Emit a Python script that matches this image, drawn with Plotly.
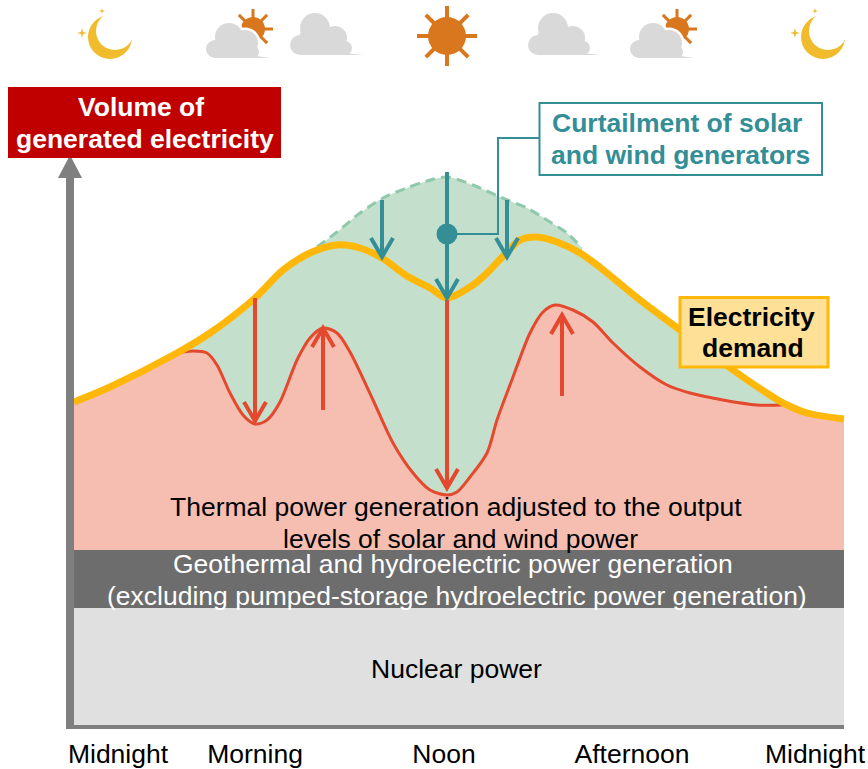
import math
import plotly.graph_objects as go

FONT = "Liberation Sans"

# Values: x = position through the day, y = generated volume
tick_pos = [44, 181, 370, 558, 741]
tick_labels = ["Midnight", "Morning", "Noon", "Afternoon", "Midnight"]

demand_x = [0, 36, 103, 136, 181, 209, 236, 263, 286, 308, 333, 356, 373, 399, 413, 433, 446, 463,
            483, 506, 523, 566, 606, 659, 699, 713, 733, 770]
demand_y = [325, 340, 374, 394, 429, 457, 474, 482, 479, 469, 451, 439, 429, 442, 454, 475, 487, 490,
            485, 474, 462, 427, 397, 357, 330, 322, 314, 308]

thermal_x = [103, 119, 133, 143, 156, 169, 181, 193, 206, 223, 236, 249, 263, 276, 299, 319, 339, 356,
             373, 383, 396, 413, 423, 439, 456, 469, 481, 499, 519, 539, 566, 593, 616, 649, 683, 708]
thermal_y = [374, 376, 374, 362, 334, 312, 303, 307, 325, 367, 389, 399, 394, 375, 327, 284, 254, 237,
             232, 235, 250, 274, 307, 350, 394, 415, 422, 417, 405, 384, 360, 342, 334, 327, 322, 322]

potential_x = [243, 263, 286, 309, 333, 353, 373, 399, 426, 453, 476, 493, 508]
potential_y = [480, 495, 514, 529, 539, 546, 550, 542, 530, 519, 505, 494, 479]

band_x = [0, 770]
hydro_top = [177, 177]
nuclear_top = [119, 119]

curtail_x = [308, 373, 433]
curtail_from = [527, 555, 527]
curtail_to = [470, 429, 470]

thermal_arrow_x = [181, 249, 373, 488]
thermal_arrow_from = [429, 317, 427, 331]
thermal_arrow_to = [306, 399, 239, 412]

hub = (373, 493)

GREEN = "#C4E0CD"
SALMON = "#F5BEB0"
RED = "#E4492E"
ORANGE = "#FFB80A"
TEAL = "#338E96"
DASH = "#8FC9AB"
AXIS = "#7F7F7F"
SUN = "#D9771E"
MOON = "#F0BC2E"
CLOUD = "#D9D9D9"
SMOOTH = 0.85


def fx(px):
    return px - 74


def fy(py):
    return 727 - py


fig = go.Figure()


def area(x, y, color, dash=False, shape="spline"):
    line = (dict(color=DASH, width=3, dash="10px,6px", shape=shape) if dash
            else dict(width=0, shape=shape))
    if shape == "spline":
        line["smoothing"] = SMOOTH
    fig.add_trace(go.Scatter(x=x, y=y, mode="lines", fill="tozeroy", fillcolor=color, line=line,
                             hoverinfo="skip", showlegend=False))


i0 = [i for i, v in enumerate(demand_x) if 103 <= v <= 713]
area(potential_x, potential_y, GREEN, dash=True)
area([demand_x[i] for i in i0], [demand_y[i] for i in i0], GREEN)

left = [i for i, v in enumerate(demand_x) if v < 103]
right = [i for i, v in enumerate(demand_x) if v > 708]
area([demand_x[i] for i in left] + thermal_x + [demand_x[i] for i in right],
     [demand_y[i] for i in left] + thermal_y + [demand_y[i] for i in right], SALMON)
area(band_x, hydro_top, "#6D6D6D", shape="linear")
area(band_x, nuclear_top, "#E0E0E0", shape="linear")

fig.add_trace(go.Scatter(x=thermal_x, y=thermal_y, mode="lines", hoverinfo="skip", showlegend=False,
                         line=dict(color=RED, width=3, shape="spline", smoothing=SMOOTH)))
fig.add_trace(go.Scatter(x=demand_x, y=demand_y, mode="lines", hoverinfo="skip", showlegend=False,
                         line=dict(color=ORANGE, width=7, shape="spline", smoothing=SMOOTH)))


def arrow(x, y0, y1, color):
    s = 1 if y1 > y0 else -1
    fig.add_trace(go.Scatter(x=[x, x], y=[y0, y1], mode="lines", hoverinfo="skip", showlegend=False,
                             line=dict(color=color, width=4)))
    fig.add_trace(go.Scatter(x=[x - 11, x, x + 11], y=[y1 - s * 19, y1, y1 - s * 19], mode="lines",
                             hoverinfo="skip", showlegend=False, line=dict(color=color, width=4)))


for x, a, b in zip(thermal_arrow_x, thermal_arrow_from, thermal_arrow_to):
    arrow(x, a, b, RED)
for x, a, b in zip(curtail_x, curtail_from, curtail_to):
    arrow(x, a, b, TEAL)

fig.add_trace(go.Scatter(x=[hub[0], fx(498), fx(498), fx(539)], y=[hub[1], hub[1], fy(138), fy(138)],
                         mode="lines", hoverinfo="skip", showlegend=False, line=dict(color=TEAL, width=2)))
fig.add_trace(go.Scatter(x=[hub[0]], y=[hub[1]], mode="markers", hoverinfo="skip", showlegend=False,
                         marker=dict(color=TEAL, size=21)))

shapes = []


def rect(x0, y0, x1, y1, fill, line=None, width=0):
    shapes.append(dict(type="rect", x0=fx(x0), x1=fx(x1), y0=fy(y0), y1=fy(y1), fillcolor=fill,
                       line=dict(color=line or fill, width=width)))


def disc(cx, cy, r, fill):
    shapes.append(dict(type="circle", x0=fx(cx - r), x1=fx(cx + r), y0=fy(cy - r), y1=fy(cy + r),
                       fillcolor=fill, line=dict(width=0)))


def poly(pts, fill):
    d = "M" + " L".join(f"{fx(a)},{fy(b)}" for a, b in pts) + " Z"
    shapes.append(dict(type="path", path=d, fillcolor=fill, line=dict(width=0)))


def seg(x0, y0, x1, y1, color, width):
    shapes.append(dict(type="line", x0=fx(x0), x1=fx(x1), y0=fy(y0), y1=fy(y1),
                       line=dict(color=color, width=width)))


def sparkle(cx, cy, r):
    poly([(cx, cy - r), (cx + r * .22, cy - r * .22), (cx + r, cy), (cx + r * .22, cy + r * .22),
          (cx, cy + r), (cx - r * .22, cy + r * .22), (cx - r, cy), (cx - r * .22, cy - r * .22)], MOON)


def moon(dx):
    disc(110 + dx, 37, 22, MOON)
    disc(115 + dx, 31, 19, "white")
    sparkle(82 + dx, 33, 5)
    sparkle(102 + dx, 11, 3)


def sun(cx, cy, r, reach, w):
    for k in range(8):
        a = k * math.pi / 4
        seg(cx, cy, cx + reach * math.cos(a), cy + reach * math.sin(a), SUN, w)
    disc(cx, cy, r, SUN)


def cloud_a(dx):
    sun(253 + dx, 29, 12, 20, 3)
    for c, r in (((229, 37), 14), ((245, 43), 13), ((215, 49), 9), ((253, 52), 6)):
        disc(c[0] + dx, c[1], r + 2.5, "white")
    for c, r in (((229, 37), 14), ((245, 43), 13), ((215, 49), 9), ((253, 52), 6)):
        disc(c[0] + dx, c[1], r, CLOUD)
    poly([(214 + dx, 42), (250 + dx, 42), (256 + dx, 56), (270 + dx, 58), (214 + dx, 58)], CLOUD)


def cloud_b(dx):
    for c, r in (((315, 28), 15), ((335, 38), 12), ((300, 45), 10), ((345, 48), 7)):
        disc(c[0] + dx, c[1], r, CLOUD)
    poly([(300 + dx, 33), (335 + dx, 33), (345 + dx, 53), (363 + dx, 55), (300 + dx, 55)], CLOUD)


moon(0)
moon(713)
cloud_a(0)
cloud_b(0)
sun(447, 36, 19, 30, 4)
cloud_b(238)
cloud_a(424)

# axis arrow
rect(66, 176, 74, 729, AXIS)
rect(66, 725, 844, 729, AXIS)
poly([(70, 155), (82, 178), (58, 178)], AXIS)

# label boxes
rect(8, 87, 281, 158, "#C00000")
rect(539.5, 103, 822, 175, "white", TEAL, 2)
rect(680, 297.5, 828, 367, "#FFE097", ORANGE, 3)

anns = []


def text(s, x, y, color="black", bold=False, size=26.5):
    label = f"<b>{s}</b>" if bold else s
    anns.append(dict(text=label, x=fx(x), y=fy(y), xref="x", yref="y", showarrow=False, xanchor="center",
                     yanchor="middle", font=dict(family=FONT, size=size, color=color)))


text("Volume of", 141, 107, "white", True)
text("generated electricity", 144.5, 139, "white", True)
text("Curtailment of solar", 677, 123, TEAL, True)
text("and wind generators", 680, 155, TEAL, True)
text("Electricity", 751, 317, "black", True)
text("demand", 753, 348, "black", True)
text("Thermal power generation adjusted to the output", 456, 507)
text("levels of solar and wind power", 460, 539)
text("Geothermal and hydroelectric power generation", 453, 564, "white")
text("(excluding pumped-storage hydroelectric power generation)", 457, 596, "white")
text("Nuclear power", 456, 669)

fig.update_layout(
    width=868, height=769, autosize=False, margin=dict(l=0, r=0, t=0, b=40, autoexpand=False),
    paper_bgcolor="white", plot_bgcolor="white", showlegend=False,
    shapes=shapes, annotations=anns,
    xaxis=dict(range=[-74, 794], tickmode="array", tickvals=tick_pos, ticktext=tick_labels, showgrid=False,
               zeroline=False, showline=False, ticks="outside", ticklen=1, tickcolor="rgba(0,0,0,0)",
               automargin=False, tickfont=dict(family=FONT, size=26.5, color="black"), tickangle=0,
               fixedrange=True),
    yaxis=dict(range=[-2, 727], visible=False, fixedrange=True, automargin=False),
)
fig.write_html("out.html", config=dict(displayModeBar=False), include_plotlyjs=True,
               post_script="document.body.style.margin='0';document.documentElement.style.overflow='hidden';")
